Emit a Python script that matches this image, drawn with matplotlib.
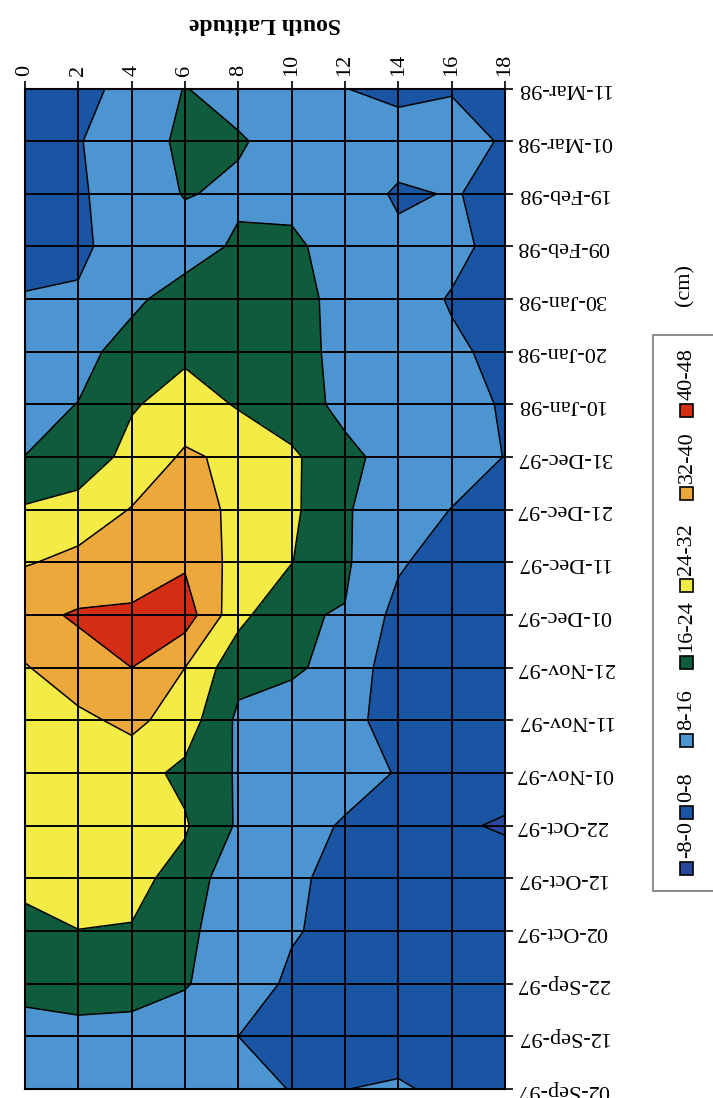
import numpy as np
import matplotlib
matplotlib.use('Agg')
import matplotlib.pyplot as plt
from matplotlib.patches import Rectangle

plt.rcParams['font.family'] = ['Liberation Serif', 'DejaVu Serif']

latitudes = [0, 2, 4, 6, 8, 10, 12, 14, 16, 18]

dates = ['02-Sep-97', '12-Sep-97', '22-Sep-97', '02-Oct-97', '12-Oct-97',
         '22-Oct-97', '01-Nov-97', '11-Nov-97', '21-Nov-97', '01-Dec-97',
         '11-Dec-97', '21-Dec-97', '31-Dec-97', '10-Jan-98', '20-Jan-98',
         '30-Jan-98', '09-Feb-98', '19-Feb-98', '01-Mar-98', '11-Mar-98']

# height in cm, one row per date (oldest first), one column per latitude
height = [
    [11.0, 11.0, 11.0, 11.0, 10.0, 7.8, 7.9, 9.0, 6.0, 5.0],
    [12.2, 13.3, 12.9, 12.3, 8.0, 5.0, 4.0, 4.0, 4.0, 4.0],
    [19.0, 20.0, 19.5, 16.5, 12.0, 6.7, 5.0, 4.0, 3.5, 3.5],
    [20.6, 23.9, 23.6, 18.7, 9.0, 8.6, 5.9, 4.0, 3.5, 3.5],
    [27.0, 27.0, 26.0, 21.5, 9.8, 9.0, 6.3, 5.0, 4.5, 4.5],
    [27.0, 27.0, 26.0, 24.8, 15.0, 10.0, 7.5, 5.0, 1.3, -1.0],
    [28.0, 28.0, 27.0, 22.2, 15.2, 12.0, 10.0, 7.7, 5.0, 4.0],
    [29.0, 30.2, 34.0, 28.1, 14.5, 11.0, 10.0, 5.3, 4.0, 3.0],
    [31.4, 36.9, 40.0, 32.0, 18.4, 17.5, 12.5, 4.0, 3.0, 3.0],
    [37.8, 40.9, 41.2, 44.0, 26.5, 16.5, 15.7, 5.5, 5.0, 4.0],
    [31.5, 33.7, 36.0, 39.0, 29.0, 24.2, 17.0, 9.0, 4.0, 4.0],
    [24.9, 28.3, 32.3, 34.0, 31.0, 25.5, 17.0, 10.0, 7.9, 6.0],
    [16.1, 17.0, 27.6, 32.9, 30.65, 25.5, 17.6, 13.5, 10.0, 7.9],
    [13.0, 16.2, 23.0, 28.5, 23.2, 19.0, 14.3, 11.5, 9.0, 7.75],
    [11.0, 13.0, 19.8, 22.0, 20.0, 18.5, 14.0, 11.0, 9.0, 6.5],
    [8.7, 8.7, 14.0, 20.5, 21.0, 19.0, 13.2, 11.0, 7.5, 5.0],
    [4.0, 6.8, 11.0, 11.2, 17.6, 18.0, 11.3, 9.6, 10.0, 5.4],
    [4.0, 7.5, 10.0, 16.6, 14.2, 13.0, 12.0, 7.0, 8.4, 6.4],
    [5.0, 7.8, 10.0, 18.5, 17.0, 12.0, 12.0, 11.6, 12.0, 7.0],
    [4.0, 6.0, 10.0, 16.3, 12.0, 10.0, 8.1, 6.0, 7.3, 5.0],
]

levels = [-8, 0, 8, 16, 24, 32, 40, 48]
band_labels = ['-8-0', '0-8', '8-16', '16-24', '24-32', '32-40', '40-48']
band_colors = ['#27489b', '#1a55a3', '#4c95d1', '#0e5c3b',
               '#f3ec46', '#eda83c', '#d52c14']

W, H = 713, 1098
fig = plt.figure(figsize=(W / 100, H / 100), dpi=100)
ax = fig.add_axes([25 / W, 1 - 1089 / H, 480 / W, 1000.5 / H])

z = np.array(height)
rows = np.arange(len(dates))
ax.contourf(latitudes, rows, z, levels=levels, colors=band_colors)
ax.contour(latitudes, rows, z, levels=levels[1:-1], colors='black',
           linewidths=1.1)

ax.set_xlim(0, 18)
ax.set_ylim(0, len(dates) - 1)
ax.set_xticks(latitudes)
ax.set_yticks(rows, dates)
ax.xaxis.tick_top()
ax.xaxis.set_label_position('top')
ax.yaxis.tick_right()
ax.tick_params(axis='x', labelrotation=90, labelsize=16, length=6,
               width=1.2, pad=3)
ax.tick_params(axis='y', labelrotation=180, labelsize=16, length=6,
               width=1.2, pad=2)
for lab in ax.get_yticklabels():
    lab.set_va('center')
ax.set_xlabel('South Latitude', fontsize=17, fontweight='bold',
              rotation=180, labelpad=18)

ax.grid(True, color='black', linewidth=1.4)
ax.set_axisbelow(False)
for sp in ax.spines.values():
    sp.set_linewidth(1.5)


def fx(px):
    return px / W


def fy(py):
    return 1 - py / H


# legend drawn sideways, reading bottom to top
fig.add_artist(Rectangle((fx(653), fy(891)), fx(80), 556 / H,
                         transform=fig.transFigure, facecolor='white',
                         edgecolor='#777777', linewidth=1.2))
patch_y = [868, 812, 740, 662, 585, 493, 410]
for lab, col, py in zip(band_labels, band_colors, patch_y):
    fig.add_artist(Rectangle((fx(680), fy(py + 6.5)), 13 / W, 13 / H,
                             transform=fig.transFigure, facecolor=col,
                             edgecolor='black', linewidth=1.2))
    fig.text(fx(687), fy(py - 10), lab, rotation=90, ha='center',
             va='bottom', fontsize=16)
fig.text(fx(685), fy(285), '(cm)', rotation=90, ha='center',
         va='center', fontsize=16)

fig.savefig('out.png', dpi=100)
